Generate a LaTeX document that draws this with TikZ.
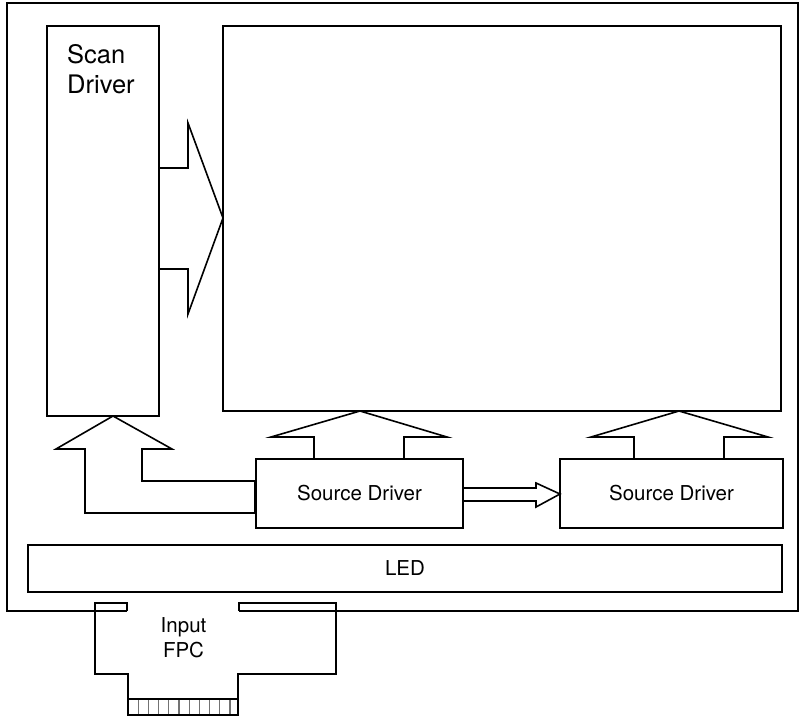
\documentclass[tikz,border=0pt]{standalone}
\usepackage{fontspec}
\setmainfont{TeX Gyre Heros}
\usetikzlibrary{calc}
\tikzset{
  unitbox/.style={draw, line width=1.6pt, inner sep=0pt, outer sep=0pt,
    anchor=north west, font=\fontsize{20.5}{25}\selectfont},
  blockarrow/.style={draw, line width=1.6pt, line join=miter},
  frameline/.style={draw, line width=1.6pt},
  pinline/.style={draw=black!55, line width=1.3pt},
}
\begin{document}
\begin{tikzpicture}[x=1pt, y=-1pt]
  \fill[white] (0,0) rectangle (799,717);
  \useasboundingbox (0,0) rectangle (799,717);

  % module frame, open where the flex cable enters
  \draw[frameline] (127,611) -- (7,611) -- (7,3) -- (798,3) -- (798,611) -- (239,611);

  % blocks
  \node[unitbox, minimum width=112pt, minimum height=390pt] (scan) at (47,26) {};
  \node[font=\fontsize{25.5}{29.5}\selectfont, align=left, anchor=north west, inner sep=0pt]
    (scanlabel) at (67,44.5) {Scan\\Driver};
  \node[unitbox, minimum width=558pt, minimum height=385pt] (panel) at (223,26) {};
  \node[unitbox, minimum width=207pt, minimum height=69pt] (src1) at (256,459) {Source Driver};
  \node[unitbox, minimum width=223pt, minimum height=69pt] (src2) at (560,459) {Source Driver};
  \node[unitbox, minimum width=754pt, minimum height=47pt] (led) at (28,545) {LED};

  % scan driver -> panel
  \draw[blockarrow] (scan.east |- 0,168) -- (188,168) -- (188,123)
    -- (panel.west |- 0,218) -- (188,314) -- (188,269) -- (scan.east |- 0,269);

  % source driver -> scan driver (bent)
  \draw[blockarrow] ($(src1.west |- 0,481)+(-1,0)$) -- (142,481) -- (142,449) -- (172,449)
    -- (113,416) -- (56,449) -- (85,449) -- (85,513) -- ($(src1.west |- 0,513)+(-1,0)$) -- cycle;

  % source drivers -> panel
  \draw[blockarrow] (src1.north -| 314,0) -- (314,437) -- (271,437)
    -- (360,411) -- (447,437) -- (404,437) -- (src1.north -| 404,0);
  \draw[blockarrow] (src2.north -| 634,0) -- (634,437) -- (591,437)
    -- (679,411) -- (768,437) -- (724,437) -- (src2.north -| 724,0);

  % source driver -> source driver
  \draw[blockarrow] (src1.east |- 0,488) -- (536,488) -- (536,483)
    -- (src2.west |- 0,494) -- (536,507) -- (536,501) -- (src1.east |- 0,501);

  % input flex cable
  \draw[frameline] (127,611) -- (127,603) -- (95,603) -- (95,674) -- (128,674)
    -- (128,715) -- (238,715) -- (238,674) -- (336,674) -- (336,603)
    -- (239,603) -- (239,611);
  \draw[frameline] (128,699) -- (238,699);
  \foreach \i in {1,...,10}
    \draw[pinline] ({128+\i*10.2},700) -- ({128+\i*10.2},714);
  \node[font=\fontsize{20.5}{25}\selectfont, align=center, inner sep=0pt]
    (fpclabel) at (183.5,638) {Input\\FPC};
\end{tikzpicture}
\end{document}
